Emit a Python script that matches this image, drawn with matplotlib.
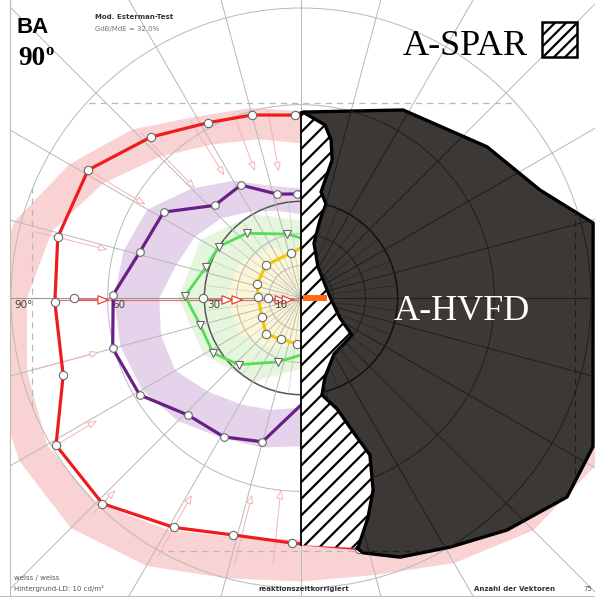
import numpy as np
import matplotlib
matplotlib.use('Agg')
import matplotlib.pyplot as plt
from matplotlib.patches import Polygon, Circle, Rectangle, FancyArrowPatch

plt.rcParams['hatch.linewidth'] = 1.6

W, H = 595, 597
CX, CY = 301, 298          # fixation point in pixels
K = 290 / 90.0             # pixels per degree

# kinetic isopters: meridian angle (deg) / eccentricity (deg)
red_ang = [89, 92, 105, 118, 133, 149, 166, 181, 198, 211, 226, 241, 254, 268, 283]
red_ecc = [57.7, 56.8, 58.8, 61.6, 68.3, 77.1, 77.8, 76.4, 77.6, 88.7, 88.7, 81.4, 76.5, 76.1, 79.8]

purple_ang = [90, 92, 103, 118, 133, 148, 164, 179, 195, 211, 226, 241, 255, 270]
purple_ecc = [32.3, 32.3, 33.1, 39.7, 39.3, 50.3, 52.0, 58.3, 60.5, 58.4, 50.5, 49.3, 46.2, 33.2]

green_ang = [90, 102, 130, 148, 162, 179, 195, 212, 227, 250, 270]
green_ecc = [18.6, 20.3, 26.2, 30.1, 31.0, 36.0, 32.4, 32.2, 28.3, 21.1, 17.7]

yellow_ang = [90, 103, 137, 162, 179, 206, 226, 244, 265, 270]
yellow_ecc = [15.5, 14.3, 14.9, 14.3, 13.3, 13.5, 15.6, 14.2, 14.3, 14.6]

# single tested locations on the horizontal meridian
single_ecc = [70.4, 30.4, 10.2]

# temporal half: outer limit of the defect and the spared border
outer_ang = [89.4, 61.5, 39.1, 24.3, 14.4, -27.0, -36.8, -48.4, -59.1, -69.1, -76.3, -77.4]
outer_ecc = [57.7, 66.4, 74.4, 81.4, 93.6, 101.7, 103.1, 96.3, 90.1, 86.1, 81.4, 79.5]
spar_ang = [89.4, 82.1, 79.2, 77.3, 79.3, 75.1, 76.3, 76.7, 61.3, 2.0, -27.2, -36.0, -59.5,
            -73.1, -77.8, -72.0, -68.6, -66.3, -69.4, -73.1, -77.2]
spar_ecc = [57.7, 54.2, 49.9, 43.9, 33.5, 30.2, 24.9, 17.5, 11.0, 9.0, 13.6, 19.6, 20.2,
            25.6, 30.8, 36.2, 45.0, 53.2, 63.6, 71.4, 79.6]
spar_bottom = 76.7

# normal ranges behind the isopters
pink_ang = [90, 105, 120, 135, 150, 165, 180, 195, 210, 225, 240, 255, 270, 285, 300, 315, 330, 345, 360]
pink_in = [48, 51, 55, 62, 71, 80, 85, 88, 91, 90, 83, 77, 75, 77, 82, 88, 92, 95, 95]
pink_out = [58, 61, 65, 74, 83, 92, 97, 99, 101, 101, 96, 90, 88, 89, 95, 102, 105, 106, 105]
lav_ang = [90, 105, 120, 135, 150, 165, 180, 195, 210, 225, 240, 255, 270]
lav_in = [26, 28, 31, 35, 38, 40, 44, 45, 45, 41, 38, 36, 34]
lav_out = [34, 36, 42, 48, 55, 57, 58, 58, 57, 54, 50, 48, 46]
grn_ang = [90, 120, 150, 180, 210, 240, 270]
grn_in = [14, 18, 22, 23, 22, 18, 14]
grn_out = [24, 30, 36, 38, 35, 30, 22]

# vectors of the outer stimulus
vec_ang = [100, 110, 122, 134, 149, 166, 195, 211, 226, 241, 256, 264]
vec_from = [60, 62, 66, 72, 80, 86, 86, 90, 94, 92, 86, 84]
vec_to = [39, 41, 44, 46.5, 55.5, 61, 64, 73, 82, 69, 62, 59]
hm_from = [70.4, 30.4, 19.9, 10.2, 3.4]
hm_to = [58.4, 19.9, 16.8, 3.4, 1.2]

grid_rings = [10, 20, 30, 60, 90]


def pol(ang, ecc):
    a = np.radians(np.asarray(ang, float))
    e = np.asarray(ecc, float)
    return e * np.cos(a), e * np.sin(a)


def band(ang, r_in, r_out):
    xo, yo = pol(ang, r_out)
    xi, yi = pol(ang[::-1], r_in[::-1])
    return np.column_stack([np.r_[xo, xi], np.r_[yo, yi]])


def fpos(x, y):
    return x / W, 1 - y / H


fig = plt.figure(figsize=(W / 100, H / 100), dpi=100)
ax = fig.add_axes([0, 0, 1, 1])
ax.set_xlim(-CX / K, (W - CX) / K)
ax.set_ylim(-(H - CY) / K, CY / K)
ax.axis('off')

# background ranges
ax.add_patch(Polygon(band(pink_ang, pink_in, pink_out), fc='#f9d3d3', ec='none',
                     joinstyle='round', zorder=1))
ax.add_patch(Polygon(band(lav_ang, lav_in, lav_out), fc='#e4d3eb', ec='none', zorder=1))
ax.add_patch(Polygon(band(grn_ang, grn_in, grn_out), fc='#e5f6dc', ec='none', zorder=1))
gx, gy = pol(grn_ang, grn_in)
ax.add_patch(Polygon(np.column_stack([gx, gy]), fc='#fdf6d6', ec='none', zorder=1))


def draw_grid(color_light, color_dark, clip=None, z=2):
    arts = []
    for r in grid_rings:
        if r == 30:
            c = Circle((0, 0), r, fill=False, ec=color_dark, lw=1.1, zorder=z)
        else:
            c = Circle((0, 0), r, fill=False, ec=color_light, lw=0.7, zorder=z)
        arts.append(ax.add_patch(c))
    for a in range(0, 360, 15):
        x, y = pol([a, a], [0, 140])
        arts += ax.plot(x, y, color=color_light, lw=0.7, zorder=z)
    for a in np.arange(7.5, 360, 15):
        x, y = pol([a, a], [4, 30])
        arts += ax.plot(x, y, color=color_light, lw=0.5, alpha=0.7, zorder=z)
    circ = Circle((0, 0), 90, transform=ax.transData)
    for xs, ys in [([-83.5, -83.5], [-95, 95]), ([85, 85], [-95, 95]),
                   ([-95, 95], [60.5, 60.5]), ([-95, 95], [-78.5, -78.5])]:
        ln, = ax.plot(xs, ys, color=color_light, lw=0.9, ls=(0, (5, 4)), zorder=z)
        ln.set_clip_path(circ if clip is None else clip)
    if clip is not None:
        for art in arts:
            art.set_clip_path(clip)


draw_grid('#b8b8b8', '#555555')
ax.axhline(0, color='#999999', lw=0.8, zorder=2)

# outer stimulus vectors
for a, r0, r1 in zip(vec_ang, vec_from, vec_to):
    x, y = pol([a, a], [r0, r1])
    ax.add_patch(FancyArrowPatch((x[0], y[0]), (x[1], y[1]),
                                 arrowstyle='-|>,head_length=0.55,head_width=0.22',
                                 mutation_scale=10, ec='#f5b3b3', fc='white',
                                 lw=0.7, zorder=3))
ax.plot([-77, -1], [-0.6, -0.6], color='#f07070', lw=0.9, zorder=3)
for r0, r1 in zip(hm_from, hm_to):
    ax.add_patch(FancyArrowPatch((-r0, -0.6), (-r1, -0.6),
                                 arrowstyle='-|>,head_length=0.75,head_width=0.3',
                                 mutation_scale=10, ec='#e8453c', fc='white',
                                 lw=0.9, zorder=3))

# isopters
mk = dict(mfc='white', mec='#6a6a6a', mew=0.8)
x, y = pol(red_ang, red_ecc)
ax.plot(x, y, color='#ee1c1c', lw=2.3, zorder=4)
ax.plot(x[1:], y[1:], 'o', ms=6, **mk, zorder=4.5)
x, y = pol(purple_ang, purple_ecc)
ax.plot(x, y, color='#6b1f86', lw=2.3, zorder=4)
ax.plot(x[1:-1], y[1:-1], 'o', ms=5.5, **mk, zorder=4.5)
x, y = pol(green_ang, green_ecc)
ax.plot(x, y, color='#55dd55', lw=2.0, zorder=4)
ax.plot(x[1:-1], y[1:-1], 'v', ms=6, **mk, zorder=4.5)
x, y = pol(yellow_ang, yellow_ecc)
ax.plot(x, y, color='#f4c70a', lw=2.3, zorder=4)
ax.plot(x[1:-1], y[1:-1], 'o', ms=6, **mk, zorder=4.5)
ax.plot(-np.asarray(single_ecc), np.zeros(3), 'o', ms=6, **mk, zorder=4.5)

# spared area (hatched) and absolute defect (dark)
sx, sy = pol(spar_ang, spar_ecc)
hatch_xy = np.column_stack([np.r_[0, sx, 0], np.r_[sy[0], sy, -spar_bottom]])
ax.add_patch(Polygon(hatch_xy, fc='white', ec='black', lw=0, hatch='//', zorder=5))
ox, oy = pol(outer_ang, outer_ecc)
dark_xy = np.column_stack([np.r_[ox, sx[::-1]], np.r_[oy, sy[::-1]]])
dark = Polygon(dark_xy, fc='#3c3836', ec='black', lw=2.4, joinstyle='round', zorder=6)
ax.add_patch(dark)
draw_grid('#1e1e1e', '#111111', clip=dark, z=6.5)
hl, = ax.plot([0, 120], [0, 0], color='#1e1e1e', lw=0.8, zorder=6.5)
hl.set_clip_path(dark)
ax.plot([0, 0], [sy[0], -spar_bottom], color='black', lw=1.3, zorder=7)
ax.plot([0.6, 8.1], [0, 0], color='#ff6a10', lw=4.3, solid_capstyle='butt', zorder=7)

ax.text((462 - CX) / K, (CY - 311) / K, 'A-HVFD', color='white', fontsize=26,
        family='Liberation Serif', ha='center', va='center', zorder=8)

# left frame
ax.add_patch(Rectangle((-CX / K, -H), (10 / K), 2 * H, fc='white', ec='none', zorder=9))
fig.add_artist(plt.Line2D([10 / W, 10 / W], [0, 1], color='#bbbbbb', lw=0.8))
fig.add_artist(plt.Line2D([0, 1], [1.5 / H, 1.5 / H], color='#bbbbbb', lw=0.8))

# eccentricity labels
for txt, px in [('90°', 14), ('60', 112), ('30', 207), ('10', 275)]:
    fig.text(*fpos(px, 305), txt, fontsize=7.5, color='#444444', va='center', zorder=10)

# header
fig.text(*fpos(17, 33), 'BA', fontsize=16, fontweight='bold', family='Liberation Sans')
fig.text(*fpos(18, 65), '90', fontsize=19.5, fontweight='bold', family='Liberation Serif')
fig.text(*fpos(45, 55), 'o', fontsize=12, fontweight='bold', family='Liberation Serif')
fig.text(*fpos(95, 19), 'Mod. Esterman-Test', fontsize=5, fontweight='bold', color='#333333')
fig.text(*fpos(95, 31), 'GdB/MdE = 32.0%', fontsize=5, color='#777777')
fig.text(*fpos(403, 55), 'A-SPAR', fontsize=26, family='Liberation Serif')
fig.add_artist(Rectangle(fpos(542, 57), 35 / W, 35 / H, transform=fig.transFigure,
                         fc='white', ec='black', lw=1.8, hatch='///'))

# footer
fig.text(*fpos(14, 580), 'weiss / weiss', fontsize=5, color='#555555')
fig.text(*fpos(14, 591), 'Hintergrund-LD: 10 cd/m²', fontsize=5, color='#555555')
fig.text(*fpos(304, 591), 'reaktionszeitkorrigiert', fontsize=5, fontweight='bold',
         color='#333333', ha='center')
fig.text(*fpos(474, 591), 'Anzahl der Vektoren', fontsize=5, fontweight='bold', color='#333333')
fig.text(*fpos(583, 591), '75', fontsize=5, color='#555555')

fig.savefig('out.png', dpi=100)
